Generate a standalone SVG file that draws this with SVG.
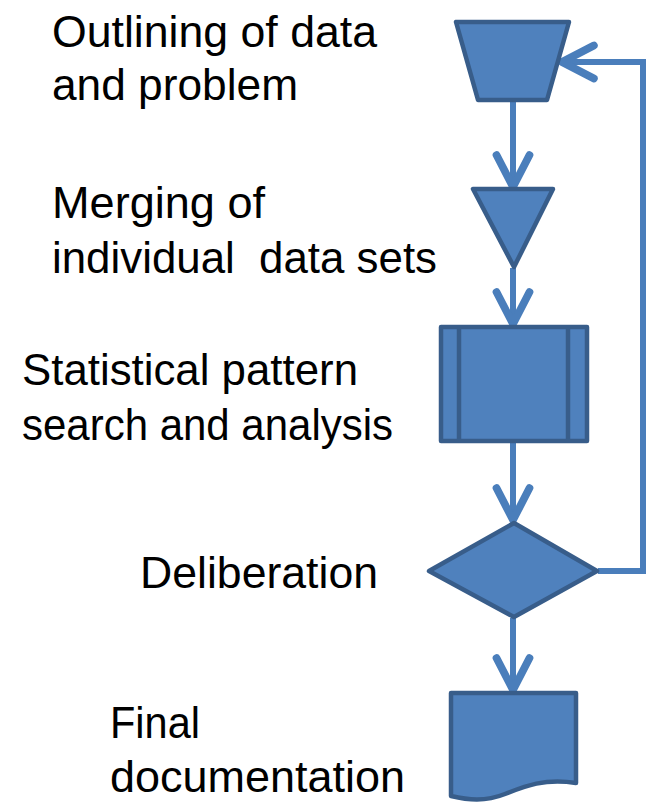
<svg xmlns="http://www.w3.org/2000/svg" width="648" height="804" viewBox="0 0 648 804">
<defs>
<style>
.shape{fill:#4f81bd;stroke:#385d8a;stroke-width:4.5;stroke-linejoin:round}
.conn{fill:none;stroke:#4a7ebb;stroke-width:6;marker-end:url(#arr)}
.lbl{font-family:"Liberation Sans",Arial,sans-serif;font-size:44px;fill:#000}
</style>
<marker id="arr" markerUnits="userSpaceOnUse" markerWidth="44" markerHeight="44" viewBox="-36 -20 40 40" refX="0" refY="0" orient="auto">
<path d="M-29,-15 L0,0 L-29,15" fill="none" stroke="#4a7ebb" stroke-width="7" stroke-linecap="round" stroke-linejoin="round"/>
</marker>
</defs>
<rect width="648" height="804" fill="#fff"/>
<g id="connectors">
<path class="conn" d="M513,101 V187"/>
<path class="conn" d="M513,268 V324"/>
<path class="conn" d="M513,442 V520"/>
<path class="conn" d="M513,618 V690"/>
<path class="conn" d="M598,571 H643 V62 H562"/>
</g>
<g id="n1">
<path class="shape" d="M456,22 H569 L547,100 H478 Z"/>
<text class="lbl" x="52" y="47" textLength="325" lengthAdjust="spacingAndGlyphs">Outlining of data</text>
<text class="lbl" x="52" y="100" textLength="246" lengthAdjust="spacingAndGlyphs">and problem</text>
</g>
<g id="n2">
<path class="shape" d="M473,189 H553 L514,267 Z"/>
<text class="lbl" x="52" y="218" textLength="213" lengthAdjust="spacingAndGlyphs">Merging of</text>
<text class="lbl" x="52" y="273" textLength="385" lengthAdjust="spacingAndGlyphs" xml:space="preserve">individual  data sets</text>
</g>
<g id="n3">
<rect class="shape" x="441" y="327" width="146" height="114"/>
<line x1="459" y1="327" x2="459" y2="441" stroke="#385d8a" stroke-width="4.5"/>
<line x1="568" y1="327" x2="568" y2="441" stroke="#385d8a" stroke-width="4.5"/>
<text class="lbl" x="22" y="385" textLength="336" lengthAdjust="spacingAndGlyphs">Statistical pattern</text>
<text class="lbl" x="22" y="440" textLength="371" lengthAdjust="spacingAndGlyphs">search and analysis</text>
</g>
<g id="n4">
<path class="shape" d="M514,523 L597,571 L514,617 L429,571 Z"/>
<text class="lbl" x="140" y="588" textLength="238" lengthAdjust="spacingAndGlyphs">Deliberation</text>
</g>
<g id="n5">
<path class="shape" d="M451,693 H576 V783 C545,778 525,786 505,794 C485,802 468,800 451,796 Z"/>
<text class="lbl" x="110" y="738" textLength="90" lengthAdjust="spacingAndGlyphs">Final</text>
<text class="lbl" x="110" y="792" textLength="295" lengthAdjust="spacingAndGlyphs">documentation</text>
</g>
</svg>
